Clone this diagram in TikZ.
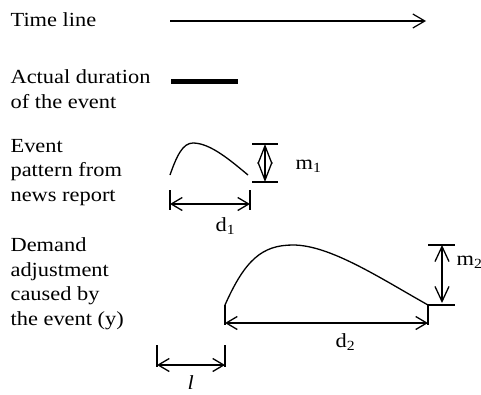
\documentclass[tikz,border=0pt]{standalone}
\usepackage{fontspec}
\setmainfont{Liberation Serif}[FakeStretch=1.12]
\usetikzlibrary{arrows.meta}
\tikzset{
  every picture/.style={line width=1.2pt},
  lbl/.style={anchor=base west, align=left, inner sep=0pt, font=\fontsize{20}{24.5}\selectfont},
  dimlbl/.style={anchor=base west, inner sep=0pt, font=\fontsize{20}{24}\selectfont},
  tick/.style={line width=1.3pt},
  dim/.style={{Straight Barb[length=#1,width=13pt]}-{Straight Barb[length=#1,width=13pt]}, line width=1.3pt},
  dim/.default=11pt,
  vdim/.style={{Straight Barb[length=#1,width=14pt]}-{Straight Barb[length=#1,width=14pt]}, line width=1.3pt},
  pattern/.style={line width=1.3pt},
}

\begin{document}
\begin{tikzpicture}[x=1pt, y=-1pt]
  \useasboundingbox (0,0) rectangle (481,394);
  % labels on the left (base = last line)
  \node[lbl] (timelbl) at (10,26) {Time line};
  \node[lbl] (actlbl) at (10,108) {Actual duration\\of the event};
  \node[lbl] (evlbl) at (10,201) {Event\\pattern from\\news report};
  \node[lbl] (demlbl) at (10,325) {Demand\\adjustment\\caused by\\the event (y)};
  % time line and actual duration
  \coordinate (t0) at (170,21); \coordinate (t1) at (426,21);
  \draw[-{Straight Barb[length=12pt,width=14pt]}] (t0) -- (t1);
  \coordinate (a0) at (171,81); \coordinate (a1) at (238,81);
  \draw[line width=5pt] (a0) -- (a1);
  % event pattern
  \coordinate (e0) at (170,175); \coordinate (ep) at (193,143); \coordinate (e1) at (248,175);
  \draw[pattern] (e0) .. controls (177,155) and (183,143) .. (ep) .. controls (210,143) and (230,160) .. (e1);
  \coordinate (m1a) at (265,144); \coordinate (m1b) at (265,182);
  \draw[tick] (252,144) -- (278,144) (252,182) -- (278,182);
  \draw[vdim=18pt] (m1a) -- (m1b);
  \node[dimlbl] (m1lbl) at (295,169) {m\textsubscript{1}};
  \coordinate (d1a) at (170,204); \coordinate (d1b) at (250,204);
  \draw[tick] (170,190) -- (170,210) (250,190) -- (250,210);
  \draw[dim] (d1a) -- (d1b);
  \node[dimlbl] (d1lbl) at (215,231) {d\textsubscript{1}};
  % demand adjustment
  \coordinate (y0) at (225,305); \coordinate (yp) at (293,245); \coordinate (y1) at (428,305);
  \draw[pattern] (y0) .. controls (245,260) and (262,245) .. (yp) .. controls (330,245) and (380,278) .. (y1);
  \draw[tick] (y0) -- (225,325) (y1) -- (428,325) (y1) -- (455,305) (428,245) -- (455,245);
  \coordinate (m2a) at (442,245); \coordinate (m2b) at (442,303);
  \draw[vdim=15pt] (m2a) -- (m2b);
  \node[dimlbl] (m2lbl) at (456,265) {m\textsubscript{2}};
  \coordinate (d2a) at (225,323); \coordinate (d2b) at (428,323);
  \draw[dim] (d2a) -- (d2b);
  \node[dimlbl] (d2lbl) at (335,347) {d\textsubscript{2}};
  % lag
  \coordinate (la) at (157,365); \coordinate (lb) at (225,365);
  \draw[tick] (157,345) -- (157,367) (225,345) -- (225,367);
  \draw[dim] (la) -- (lb);
  \node[dimlbl] (llbl) at (187,389) {\textit{l}};
\end{tikzpicture}
\end{document}
